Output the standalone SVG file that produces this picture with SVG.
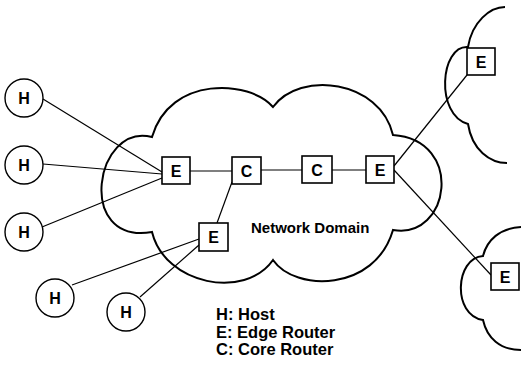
<svg xmlns="http://www.w3.org/2000/svg" width="521" height="367" viewBox="0 0 521 367">
<style>
.cloud{fill:none;stroke:#000;stroke-width:2}
.box{fill:#fff;stroke:#000;stroke-width:1.6}
.host{fill:#fff;stroke:#000;stroke-width:1.4}
.lbl{font-family:"Liberation Sans",Arial,sans-serif;font-weight:bold;font-size:16px;text-anchor:middle;fill:#000}
.txt{font-family:"Liberation Sans",Arial,sans-serif;font-weight:bold;fill:#000}
#connectors line{stroke:#000;stroke-width:1.2}
</style>
<rect width="521" height="367" fill="#fff"/>
<g id="clouds">
<path class="cloud" d="M152,137 C95,122 75,245 152,232 C165,285 245,300 273,260 C295,292 375,292 393,230 C450,240 465,140 393,135 C380,80 300,70 273,107 C250,80 170,75 152,137 Z"/>
<path class="cloud" d="M505,7 C490,7 472,22 468,47 C440,45 435,115 468,124 C472,150 490,163 507,163"/>
<path class="cloud" d="M521,227 C500,228 487,240 483,256 C455,258 452,315 483,320 C487,338 500,350 521,350"/>
</g>
<g id="connectors">
<line x1="43" y1="99" x2="162" y2="172"/>
<line x1="43" y1="164" x2="162" y2="174"/>
<line x1="42" y1="227" x2="162" y2="178"/>
<line x1="190" y1="171" x2="232" y2="171"/>
<line x1="261" y1="170" x2="302" y2="170"/>
<line x1="332" y1="170" x2="366" y2="170"/>
<line x1="232" y1="182" x2="217" y2="223"/>
<line x1="199" y1="239" x2="72" y2="285"/>
<line x1="199" y1="245" x2="140" y2="297"/>
<line x1="394" y1="166" x2="467" y2="75"/>
<line x1="394" y1="170" x2="491" y2="275"/>
</g>
<g id="H1"><circle class="host" cx="24" cy="98" r="19"/><text class="lbl" x="24" y="104">H</text></g>
<g id="H2"><circle class="host" cx="24" cy="165" r="19"/><text class="lbl" x="24" y="171">H</text></g>
<g id="H3"><circle class="host" cx="24" cy="232" r="19"/><text class="lbl" x="24" y="238">H</text></g>
<g id="H4"><circle class="host" cx="55" cy="298" r="19"/><text class="lbl" x="55" y="304">H</text></g>
<g id="H5"><circle class="host" cx="126" cy="312" r="19"/><text class="lbl" x="126" y="318">H</text></g>
<g id="E1"><rect class="box" x="162" y="157" width="28" height="27"/><text class="lbl" x="176" y="177">E</text></g>
<g id="C1"><rect class="box" x="232" y="157" width="29" height="27"/><text class="lbl" x="246.5" y="177">C</text></g>
<g id="C2"><rect class="box" x="302" y="156" width="30" height="27"/><text class="lbl" x="317" y="176">C</text></g>
<g id="E2"><rect class="box" x="366" y="156" width="28" height="27"/><text class="lbl" x="380" y="176">E</text></g>
<g id="E3"><rect class="box" x="199" y="223" width="29" height="28"/><text class="lbl" x="213.5" y="243">E</text></g>
<g id="E4"><rect class="box" x="467" y="48" width="28" height="27"/><text class="lbl" x="481" y="68">E</text></g>
<g id="E5"><rect class="box" x="491" y="263" width="28" height="27"/><text class="lbl" x="505" y="283">E</text></g>
<g id="labels">
<text class="txt" x="251" y="233" font-size="15">Network Domain</text>
<text class="txt" x="216" y="320" font-size="16.5">H: Host</text>
<text class="txt" x="216" y="338" font-size="16.5">E: Edge Router</text>
<text class="txt" x="216" y="355" font-size="16.5">C: Core Router</text>
</g>
</svg>
